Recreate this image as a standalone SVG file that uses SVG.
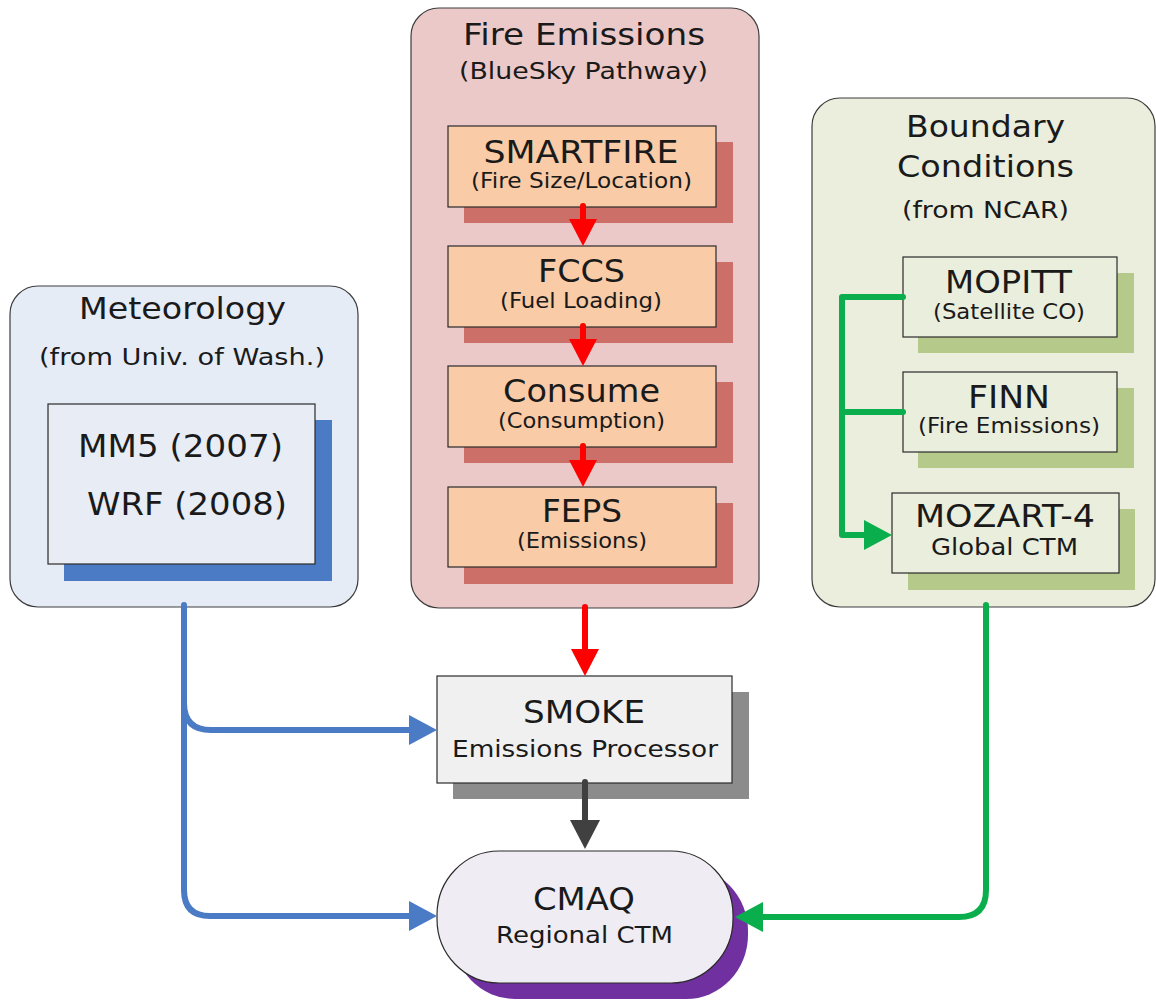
<svg xmlns="http://www.w3.org/2000/svg" width="1156" height="1000" viewBox="0 0 1156 1000">
<defs>
<style>
text{font-family:"DejaVu Sans","Verdana",sans-serif;fill:#1a1a1a;text-anchor:middle}
.t{font-size:30px}
.m{font-size:32px}
.s{font-size:21px}
.b{font-size:23px}
.cont{stroke:#3c3c3c;stroke-width:1.2}
.box{stroke:#2a2a2a;stroke-width:1.2}
.conn{fill:none;stroke-width:6;stroke-linejoin:round;stroke-linecap:round}
</style>
<marker id="hr" viewBox="0 0 27 28" refX="1" refY="14" markerWidth="27" markerHeight="28" markerUnits="userSpaceOnUse" orient="auto"><path d="M0,0 L27,14 L0,28 z" fill="#ff0000"/></marker>
<marker id="hb" viewBox="0 0 28 30" refX="1" refY="15" markerWidth="28" markerHeight="30" markerUnits="userSpaceOnUse" orient="auto"><path d="M0,0 L28,15 L0,30 z" fill="#4a7bc4"/></marker>
<marker id="hg" viewBox="0 0 28 30" refX="1" refY="15" markerWidth="28" markerHeight="30" markerUnits="userSpaceOnUse" orient="auto"><path d="M0,0 L28,15 L0,30 z" fill="#0aae4c"/></marker>
<marker id="hd" viewBox="0 0 29 30" refX="1" refY="15" markerWidth="29" markerHeight="30" markerUnits="userSpaceOnUse" orient="auto"><path d="M0,0 L29,15 L0,30 z" fill="#404040"/></marker>
</defs>
<rect width="1156" height="1000" fill="#ffffff"/>

<g id="meteorology">
<rect class="cont" x="10" y="286" width="348" height="321" rx="28" fill="#e6ecf6"/>
<text class="t" x="182.5" y="319" textLength="207" lengthAdjust="spacingAndGlyphs">Meteorology</text>
<text class="b" x="182" y="365" textLength="286" lengthAdjust="spacingAndGlyphs">(from Univ. of Wash.)</text>
<g id="mm5-wrf">
<rect x="64" y="420" width="268" height="161" fill="#4a7bc4"/>
<rect class="box" x="48" y="404" width="267" height="160" fill="#e7ecf5"/>
<text class="m" x="180.5" y="457" textLength="205" lengthAdjust="spacingAndGlyphs">MM5 (2007)</text>
<text class="m" x="187" y="515" textLength="200" lengthAdjust="spacingAndGlyphs">WRF (2008)</text>
</g>
</g>

<g id="fire-emissions">
<rect class="cont" x="411" y="8" width="348" height="600" rx="28" fill="#ecc9c9"/>
<text class="t" x="584" y="45" textLength="242" lengthAdjust="spacingAndGlyphs">Fire Emissions</text>
<text class="b" x="583.5" y="79" textLength="249" lengthAdjust="spacingAndGlyphs">(BlueSky Pathway)</text>
<g id="smartfire">
<rect x="464" y="142" width="269" height="81" fill="#cd6f69"/>
<rect class="box" x="448" y="126" width="268" height="81" fill="#f9cba6"/>
<text class="m" x="581" y="163" textLength="195" lengthAdjust="spacingAndGlyphs">SMARTFIRE</text>
<text class="s" x="581.5" y="188" textLength="221" lengthAdjust="spacingAndGlyphs">(Fire Size/Location)</text>
</g>
<g id="fccs">
<rect x="464" y="262" width="269" height="81" fill="#cd6f69"/>
<rect class="box" x="448" y="246" width="268" height="81" fill="#f9cba6"/>
<text class="m" x="581.5" y="282" textLength="87" lengthAdjust="spacingAndGlyphs">FCCS</text>
<text class="s" x="581" y="308" textLength="162" lengthAdjust="spacingAndGlyphs">(Fuel Loading)</text>
</g>
<g id="consume">
<rect x="464" y="382" width="269" height="81" fill="#cd6f69"/>
<rect class="box" x="448" y="366" width="268" height="81" fill="#f9cba6"/>
<text class="m" x="581.5" y="402" textLength="157" lengthAdjust="spacingAndGlyphs">Consume</text>
<text class="s" x="581.5" y="428" textLength="167" lengthAdjust="spacingAndGlyphs">(Consumption)</text>
</g>
<g id="feps">
<rect x="464" y="503" width="269" height="81" fill="#cd6f69"/>
<rect class="box" x="448" y="487" width="268" height="80" fill="#f9cba6"/>
<text class="m" x="582" y="522" textLength="80" lengthAdjust="spacingAndGlyphs">FEPS</text>
<text class="s" x="582" y="548" textLength="130" lengthAdjust="spacingAndGlyphs">(Emissions)</text>
</g>
</g>

<g id="boundary-conditions">
<rect class="cont" x="812" y="98" width="343" height="509" rx="28" fill="#ebeedd"/>
<text class="t" x="985.5" y="137" textLength="159" lengthAdjust="spacingAndGlyphs">Boundary</text>
<text class="t" x="985.5" y="177" textLength="177" lengthAdjust="spacingAndGlyphs">Conditions</text>
<text class="b" x="985.5" y="218" textLength="167" lengthAdjust="spacingAndGlyphs">(from NCAR)</text>
<g id="mopitt">
<rect x="918" y="273" width="216" height="80" fill="#b4c98a"/>
<rect class="box" x="903" y="257" width="214" height="80" fill="#eaeedc"/>
<text class="m" x="1008.5" y="293" textLength="127" lengthAdjust="spacingAndGlyphs">MOPITT</text>
<text class="s" x="1009" y="319" textLength="152" lengthAdjust="spacingAndGlyphs">(Satellite CO)</text>
</g>
<g id="finn">
<rect x="918" y="388" width="216" height="80" fill="#b4c98a"/>
<rect class="box" x="903" y="372" width="214" height="80" fill="#eaeedc"/>
<text class="m" x="1009" y="408" textLength="82" lengthAdjust="spacingAndGlyphs">FINN</text>
<text class="s" x="1009" y="433" textLength="182" lengthAdjust="spacingAndGlyphs">(Fire Emissions)</text>
</g>
<g id="mozart">
<rect x="908" y="509" width="227" height="81" fill="#b4c98a"/>
<rect class="box" x="892" y="493" width="227" height="80" fill="#eaeedc"/>
<text class="m" x="1005" y="527" textLength="180" lengthAdjust="spacingAndGlyphs">MOZART-4</text>
<text class="b" x="1004.5" y="555" textLength="147" lengthAdjust="spacingAndGlyphs">Global CTM</text>
</g>
</g>

<g id="smoke">
<rect x="453" y="692" width="296" height="107" fill="#8c8c8c"/>
<rect class="box" x="437" y="676" width="295" height="107" fill="#f0f0f0"/>
<text class="m" x="584" y="723" textLength="122" lengthAdjust="spacingAndGlyphs">SMOKE</text>
<text class="b" x="585" y="757" textLength="266" lengthAdjust="spacingAndGlyphs">Emissions Processor</text>
</g>

<g id="cmaq">
<rect x="453" y="867" width="295" height="132" rx="62" ry="64" fill="#7030a0"/>
<rect class="box" x="437" y="851" width="296" height="132" rx="62" ry="64" fill="#efedf3"/>
<text class="m" x="584" y="910" textLength="102" lengthAdjust="spacingAndGlyphs">CMAQ</text>
<text class="b" x="584.5" y="943" textLength="177" lengthAdjust="spacingAndGlyphs">Regional CTM</text>
</g>

<g id="connectors">
<path class="conn" stroke="#ff0000" d="M583,206 V220" marker-end="url(#hr)"/>
<path class="conn" stroke="#ff0000" d="M583,326 V340" marker-end="url(#hr)"/>
<path class="conn" stroke="#ff0000" d="M583,446 V461" marker-end="url(#hr)"/>
<path class="conn" stroke="#ff0000" d="M585,607 V650" marker-end="url(#hr)"/>
<path class="conn" stroke="#404040" d="M585,782 V821" marker-end="url(#hd)"/>
<path class="conn" stroke="#4a7bc4" d="M184,605 V890 Q184,916 210,916 H410" marker-end="url(#hb)"/>
<path class="conn" stroke="#4a7bc4" d="M184,703 Q184,730 211,730 H410" marker-end="url(#hb)"/>
<path class="conn" stroke="#0aae4c" d="M986,605 V890 Q986,917 959,917 H762" marker-end="url(#hg)"/>
<path class="conn" stroke="#0aae4c" d="M903,297 H842 V535 H865" marker-end="url(#hg)"/>
<path class="conn" stroke="#0aae4c" d="M903,412 H842"/>
</g>
</svg>
